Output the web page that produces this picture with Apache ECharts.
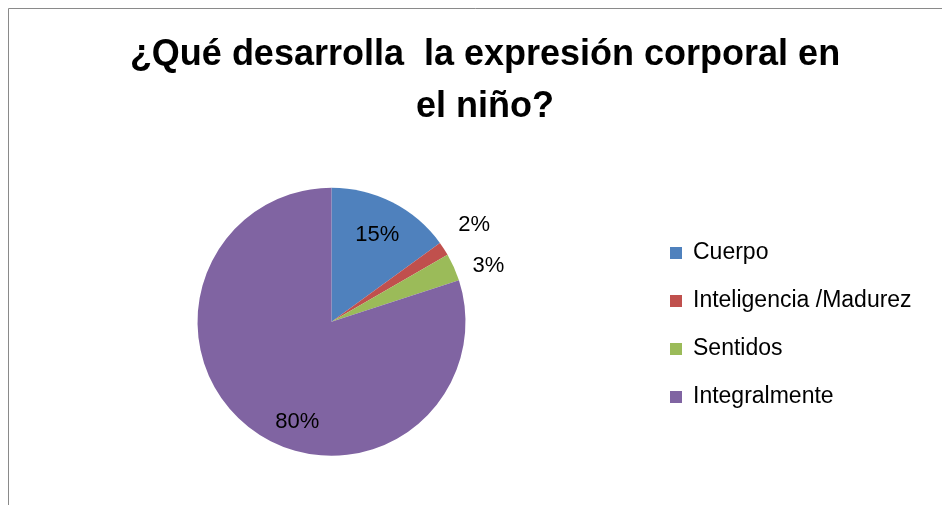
<!DOCTYPE html>
<html>
<head>
<meta charset="utf-8">
<script src="https://cdn.jsdelivr.net/npm/echarts@6/dist/echarts.min.js"></script>
<style>
  html, body { margin: 0; padding: 0; background: #fff; }
  #chart { width: 942px; height: 505px; }
</style>
</head>
<body>
<div id="chart"></div>
<script>
// datos del gráfico
var titleText = '¿Qué desarrolla  la expresión corporal en\nel niño?'
var categories = ['Cuerpo', 'Inteligencia /Madurez', 'Sentidos', 'Integralmente']
var values = [9, 1, 2, 48]
var colors = ['#4F81BD', '#C0504D', '#9BBB59', '#8064A2']

// desplazamiento de cada etiqueta respecto a la posición 'inside'
var labelShift = [[14, -24], [84, -59], [93, -27], [7, 44]]

var myChart = echarts.init(document.getElementById('chart'))

var option = {
  animation: false,
  color: colors,
  title: {
    text: titleText,
    left: 480,
    top: 24,
    padding: 5,
    textAlign: 'center',
    textStyle: {
      fontFamily: '"Liberation Sans", Arial, sans-serif',
      fontSize: 36,
      fontWeight: 'bold',
      color: '#000',
      lineHeight: 52
    }
  },
  legend: {
    orient: 'vertical',
    left: 670,
    top: 241,
    padding: 0,
    icon: 'rect',
    itemWidth: 12,
    itemHeight: 12,
    itemGap: 24,
    data: categories,
    textStyle: {
      fontFamily: '"Liberation Sans", Arial, sans-serif',
      fontSize: 23,
      lineHeight: 24,
      color: '#000',
      padding: [0, 0, 0, 6]
    }
  },
  graphic: [
    {
      type: 'rect',
      shape: { x: 8.5, y: 8.5, width: 1000, height: 600 },
      style: { fill: 'none', stroke: '#8a8a8a', lineWidth: 1 },
      silent: true
    }
  ],
  series: [
    {
      type: 'pie',
      center: [331.5, 321.75],
      radius: 134,
      startAngle: 90,
      clockwise: true,
      avoidLabelOverlap: false,
      percentPrecision: 0,
      itemStyle: { borderWidth: 0 },
      label: {
        show: true,
        position: 'inside',
        formatter: '{d}%',
        fontFamily: '"Liberation Sans", Arial, sans-serif',
        fontSize: 22,
        color: '#000'
      },
      labelLine: { show: false },
      labelLayout: function (params) {
        var s = labelShift[params.dataIndex]
        return { dx: s[0], dy: s[1] }
      },
      emphasis: { disabled: true },
      data: categories.map(function (name, i) {
        return { name: name, value: values[i] }
      })
    }
  ]
}

myChart.setOption(option)
window.onresize = function () {
  myChart.resize()
}
</script>
</body>
</html>
